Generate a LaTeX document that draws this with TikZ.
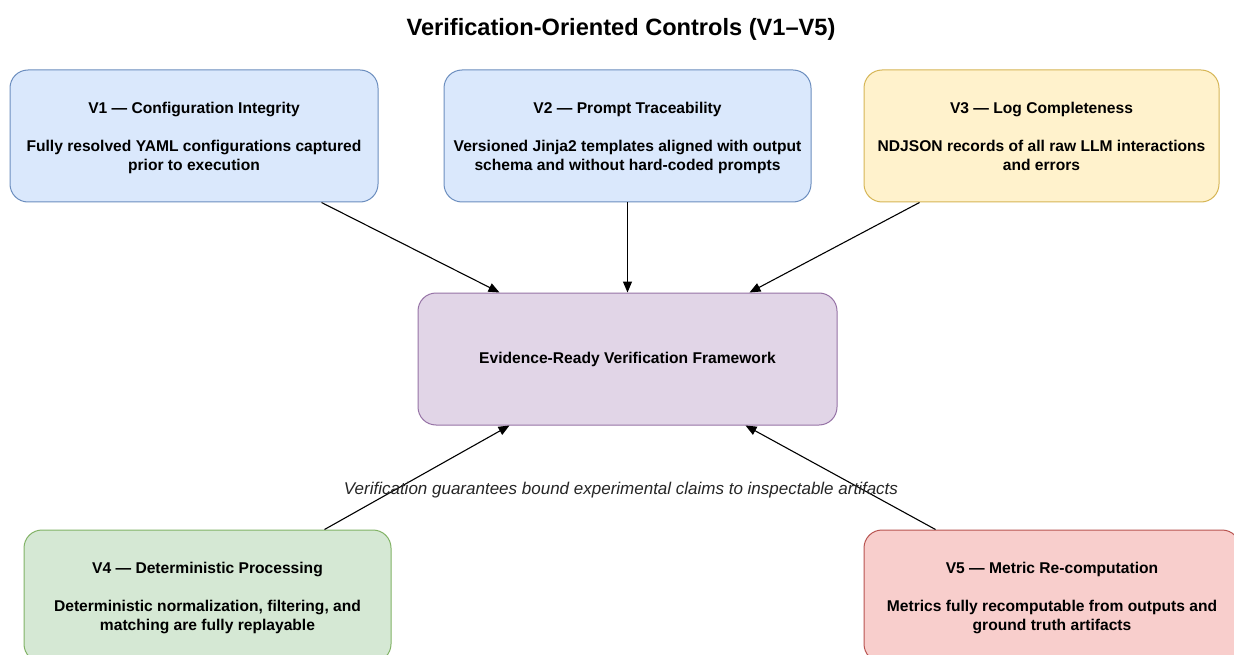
\documentclass[tikz,border=0pt]{standalone}
\usepackage{fontspec}
\setmainfont{Liberation Sans}
\usetikzlibrary{arrows.meta,calc}
\definecolor{blueFill}{HTML}{DAE8FC}\definecolor{blueLine}{HTML}{6C8EBF}
\definecolor{yelFill}{HTML}{FFF2CC}\definecolor{yelLine}{HTML}{D6B656}
\definecolor{purFill}{HTML}{E1D5E7}\definecolor{purLine}{HTML}{9673A6}
\definecolor{grnFill}{HTML}{D5E8D4}\definecolor{grnLine}{HTML}{82B366}
\definecolor{redFill}{HTML}{F8CECC}\definecolor{redLine}{HTML}{B85450}
\tikzset{
  ctrlbox/.style={draw, rounded corners=18pt, line width=1pt, minimum height=132pt,
    align=center, inner sep=0pt, text depth=0pt, font=\fontsize{15.6}{19}\selectfont\bfseries},
  conn/.style={-{Triangle[length=11pt,width=9pt]}, line width=1.1pt, black},
}
\begin{document}
\begin{tikzpicture}[x=1pt,y=-1pt]
\useasboundingbox (0,0) rectangle (1234,655);
\clip (0,0) rectangle (1234,655);
\fill[white] (0,0) rectangle (1234,655);

\node[font=\fontsize{23.6}{26}\selectfont\bfseries] (title) at (621,29) {Verification-Oriented Controls (V1--V5)};

% control boxes (text block shifted slightly down inside each box)
\node[ctrlbox, fill=blueFill, draw=blueLine, minimum width=368pt] (v1) at (194,136) {};
\node[font=\fontsize{15.6}{19}\selectfont\bfseries, align=center] (v1t) at (194,137.5)
  {V1 — Configuration Integrity\\[19pt]Fully resolved YAML configurations captured\\prior to execution};
\node[ctrlbox, fill=blueFill, draw=blueLine, minimum width=367pt] (v2) at (627.5,136) {};
\node[font=\fontsize{15.6}{19}\selectfont\bfseries, align=center] (v2t) at (627.5,137.5)
  {V2 — Prompt Traceability\\[19pt]Versioned Jinja2 templates aligned with output\\schema and without hard-coded prompts};
\node[ctrlbox, fill=yelFill, draw=yelLine, minimum width=355pt] (v3) at (1041.5,136) {};
\node[font=\fontsize{15.6}{19}\selectfont\bfseries, align=center] (v3t) at (1041.5,136.5)
  {V3 — Log Completeness\\[19pt]NDJSON records of all raw LLM interactions\\and errors};
\node[ctrlbox, fill=purFill, draw=purLine, minimum width=419pt] (core) at (627.5,359) {};
\node[font=\fontsize{15.6}{19}\selectfont\bfseries] (coret) at (627.5,359.5)
  {Evidence-Ready Verification Framework};
\node[ctrlbox, fill=grnFill, draw=grnLine, minimum width=367pt] (v4) at (207.5,596) {};
\node[font=\fontsize{15.6}{19}\selectfont\bfseries, align=center] (v4t) at (207.5,597.5)
  {V4 — Deterministic Processing\\[19pt]Deterministic normalization, filtering, and\\matching are fully replayable};
\node[ctrlbox, fill=redFill, draw=redLine, minimum width=376pt] (v5) at (1052,596) {};
\node[font=\fontsize{15.6}{19}\selectfont\bfseries, align=center] (v5t) at (1052,597.5)
  {V5 — Metric Re-computation\\[19pt]Metrics fully recomputable from outputs and\\ground truth artifacts};

\draw[conn] ($(v1.south west)+(312,0)$) -- ($(core.north west)+(82,0)$);
\draw[conn] (v2.south) -- (core.north);
\draw[conn] ($(v3.south west)+(56,0)$) -- ($(core.north west)+(332,0)$);
\draw[conn] ($(v4.north west)+(301,0)$) -- ($(core.south west)+(92,0)$);
\draw[conn] ($(v5.north west)+(72,0)$) -- ($(core.south west)+(328,0)$);

\node[font=\fontsize{17}{20}\selectfont\itshape, text=black!85] (note) at (621,490.5)
  {Verification guarantees bound experimental claims to inspectable artifacts};
\end{tikzpicture}
\end{document}
